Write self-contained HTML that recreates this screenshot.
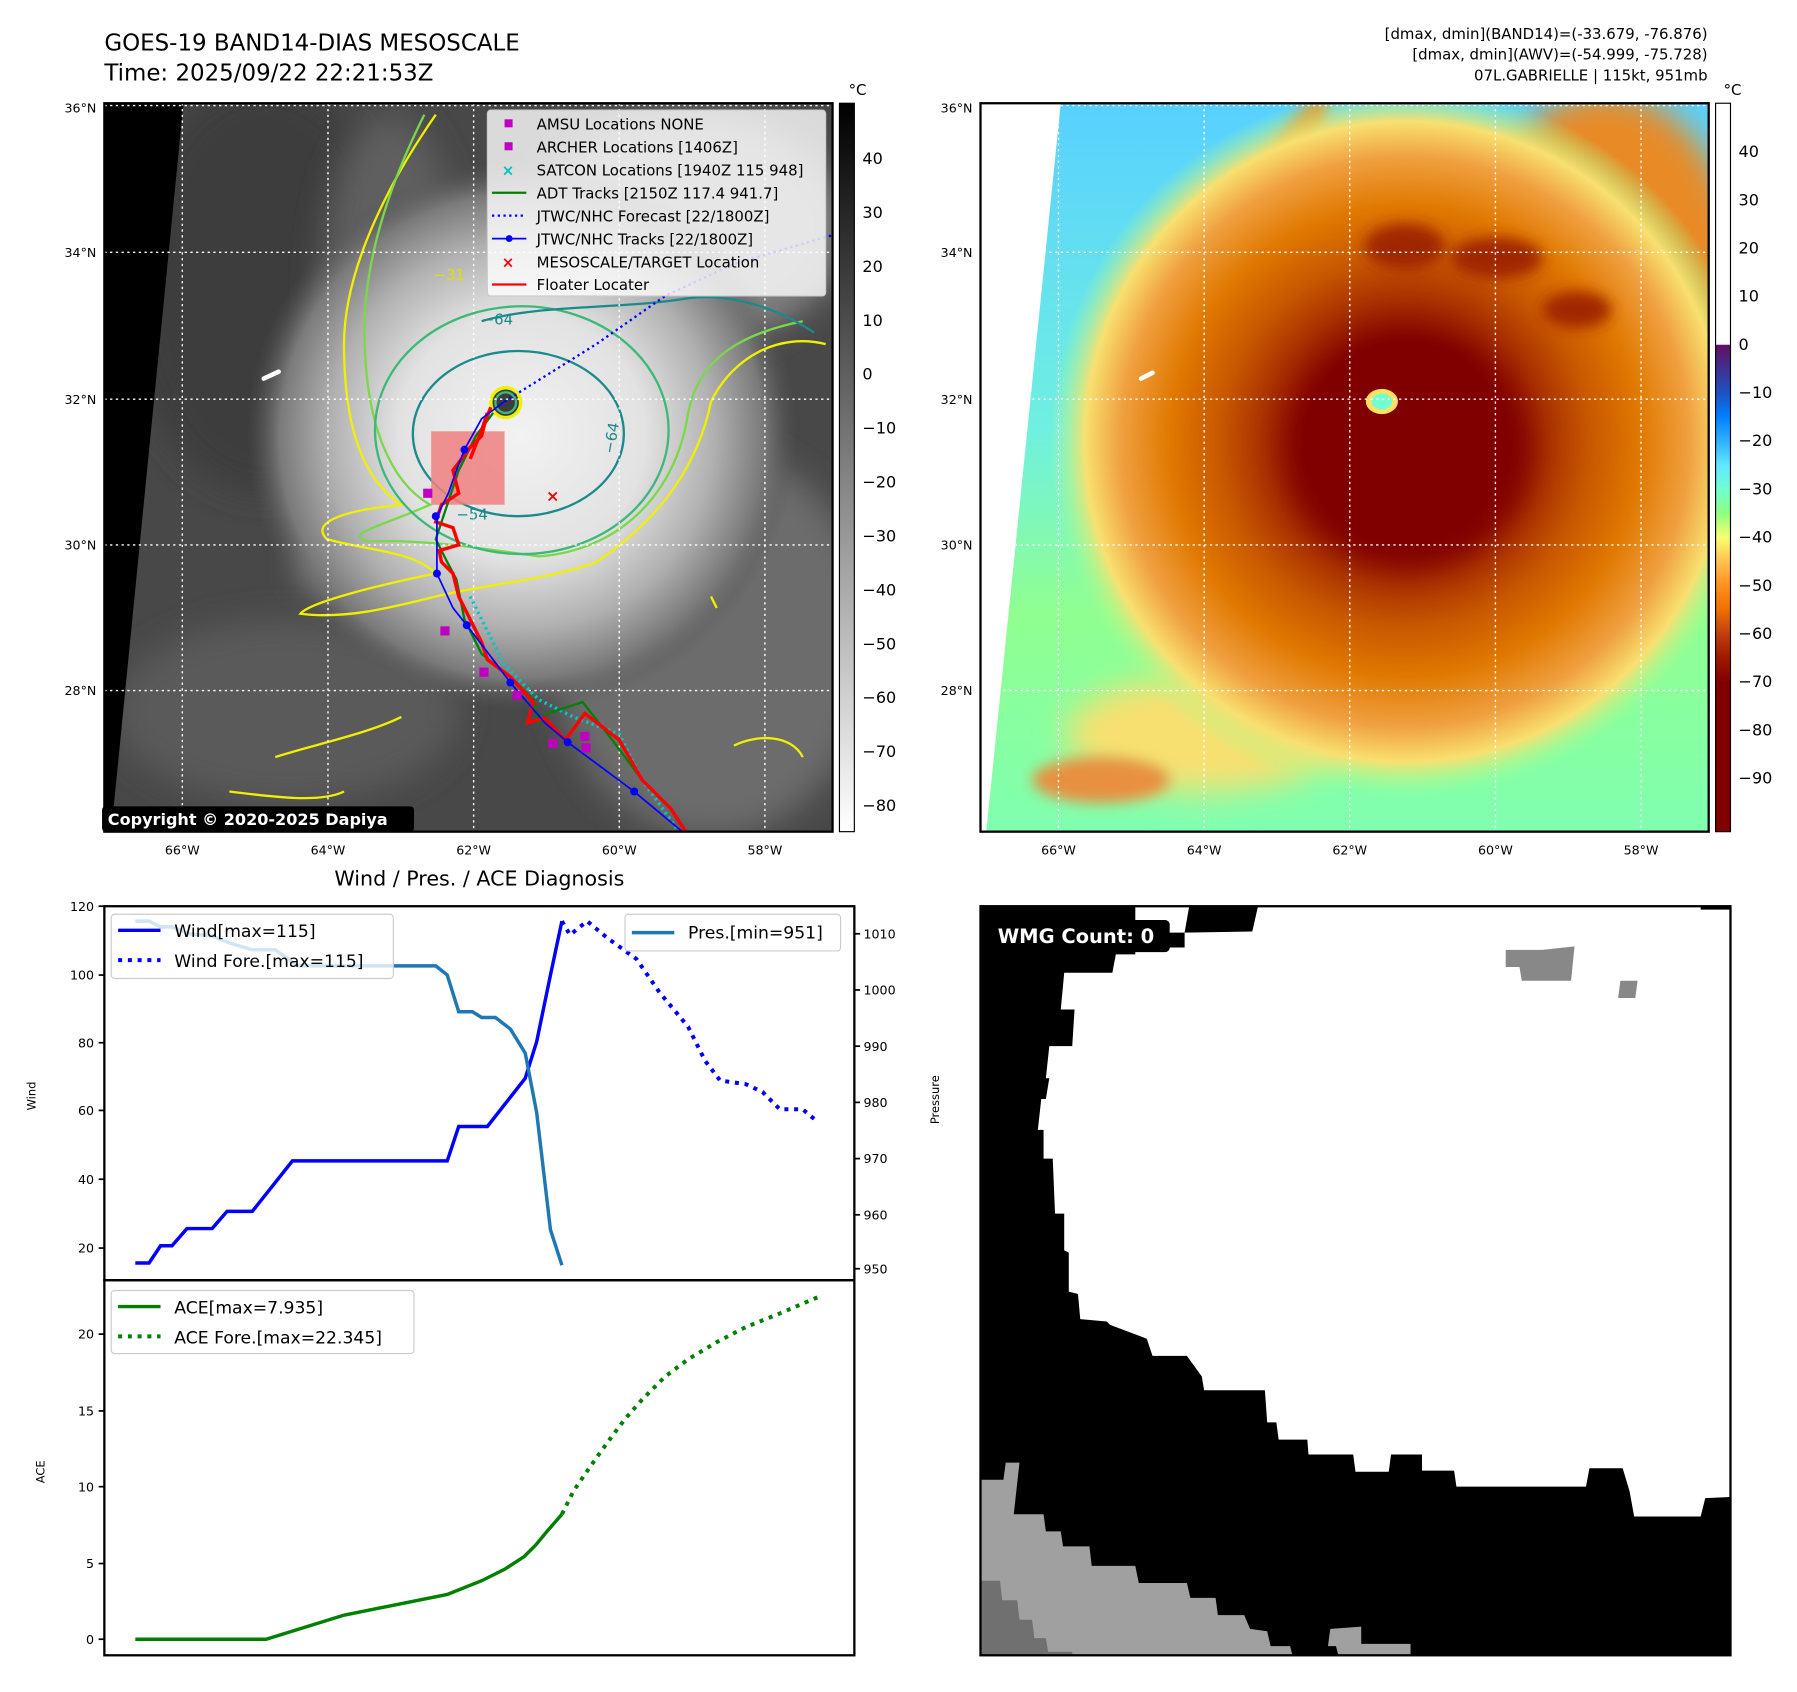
<!DOCTYPE html>
<html><head><meta charset="utf-8"><style>html,body{margin:0;padding:0;background:#fff}svg{display:block}text{font-family:"DejaVu Sans","Liberation Sans",sans-serif}</style></head><body>
<svg width="1797" height="1692" viewBox="0 0 1567 1475" preserveAspectRatio="none" xmlns="http://www.w3.org/2000/svg">
<defs>
<clipPath id="c1"><rect x="91" y="90" width="635" height="635"/></clipPath>
<clipPath id="c2"><rect x="855" y="90" width="635" height="635"/></clipPath>
<clipPath id="c3"><rect x="855" y="790" width="654" height="653"/></clipPath>
<radialGradient id="gs" cx="455" cy="380" r="240" gradientUnits="userSpaceOnUse">
<stop offset="0" stop-color="#f2f2f2"/><stop offset="0.45" stop-color="#e2e2e2"/><stop offset="0.7" stop-color="#b0b0b0"/><stop offset="0.88" stop-color="#7a7a7a"/><stop offset="1" stop-color="#555" stop-opacity="0"/></radialGradient>
<radialGradient id="cs" cx="1225" cy="385" r="310" gradientUnits="userSpaceOnUse">
<stop offset="0" stop-color="#7a0000"/><stop offset="0.28" stop-color="#800000"/><stop offset="0.4" stop-color="#a83000"/><stop offset="0.52" stop-color="#c85800"/><stop offset="0.66" stop-color="#e07800"/><stop offset="0.8" stop-color="#f0a040"/><stop offset="0.9" stop-color="#f8e070"/><stop offset="1" stop-color="#a0ff90" stop-opacity="0"/></radialGradient>
<linearGradient id="bg2" x1="0" y1="0" x2="0" y2="1"><stop offset="0" stop-color="#58d0ff"/><stop offset="0.45" stop-color="#70f0e0"/><stop offset="0.7" stop-color="#90ff90"/><stop offset="1" stop-color="#80ffb0"/></linearGradient>
<linearGradient id="cb1" x1="0" y1="0" x2="0" y2="1"><stop offset="0" stop-color="#000"/><stop offset="1" stop-color="#fff"/></linearGradient>
<linearGradient id="cb2" x1="0" y1="0" x2="0" y2="1">
<stop offset="0" stop-color="#fff"/><stop offset="0.331" stop-color="#fff"/><stop offset="0.332" stop-color="#601060"/><stop offset="0.364" stop-color="#403090"/><stop offset="0.397" stop-color="#2050c0"/><stop offset="0.43" stop-color="#0080ff"/><stop offset="0.464" stop-color="#30b0ff"/><stop offset="0.497" stop-color="#60e8ff"/><stop offset="0.53" stop-color="#70ffd0"/><stop offset="0.563" stop-color="#90ff80"/><stop offset="0.596" stop-color="#f8ff70"/><stop offset="0.63" stop-color="#ffc050"/><stop offset="0.662" stop-color="#ff9020"/><stop offset="0.695" stop-color="#f07000"/><stop offset="0.728" stop-color="#c04010"/><stop offset="0.76" stop-color="#a01a00"/><stop offset="0.795" stop-color="#800000"/><stop offset="1" stop-color="#800000"/></linearGradient>
<filter id="bl" x="-50%" y="-50%" width="200%" height="200%"><feGaussianBlur stdDeviation="14"/></filter>
<filter id="bl2" x="-50%" y="-50%" width="200%" height="200%"><feGaussianBlur stdDeviation="6"/></filter>
</defs>

<text x="91" y="44" font-size="20">GOES-19 BAND14-DIAS MESOSCALE</text>
<text x="91" y="70" font-size="20">Time: 2025/09/22 22:21:53Z</text>
<g font-size="13" text-anchor="end"><text x="1489" y="34">[dmax, dmin](BAND14)=(-33.679, -76.876)</text><text x="1489" y="52">[dmax, dmin](AWV)=(-54.999, -75.728)</text><text x="1489" y="70">07L.GABRIELLE | 115kt, 951mb</text></g>

<!-- MAP 1 -->
<g clip-path="url(#c1)">
<rect x="91" y="90" width="635" height="635" fill="#484848"/>
<ellipse cx="230" cy="250" rx="120" ry="180" fill="#3c3c3c" filter="url(#bl)"/>
<ellipse cx="620" cy="560" rx="140" ry="170" fill="#6c6c6c" filter="url(#bl)"/>
<ellipse cx="250" cy="620" rx="150" ry="80" fill="#5a5a5a" filter="url(#bl)"/>
<ellipse cx="340" cy="250" rx="60" ry="150" fill="#5e5e5e" filter="url(#bl)"/>
<ellipse cx="600" cy="200" rx="140" ry="100" fill="#808080" filter="url(#bl)"/>
<ellipse cx="420" cy="495" rx="160" ry="40" fill="#8a8a8a" filter="url(#bl)"/>
<circle cx="455" cy="380" r="240" fill="url(#gs)"/>
<polygon points="91,90 160,90 97,725 91,725" fill="#000"/>
<g fill="none" stroke-width="2">
<path d="M380,100 C345,150 300,230 300,300 C300,380 320,420 350,440 C300,445 270,455 285,470 C320,480 360,480 380,500 C330,510 270,525 262,535 C300,540 340,530 380,520 C420,510 480,505 520,490 C580,450 610,400 620,350 C640,310 680,290 720,300" stroke="#f0f000"/>
<path d="M370,100 C340,160 315,230 318,300 C320,370 340,420 375,440 C330,460 300,465 320,472 C380,470 430,480 470,485 C540,480 590,430 600,360 C610,310 650,290 700,280" stroke="#7ad84a"/>
<ellipse cx="455" cy="375" rx="128" ry="108" stroke="#3cb878"/>
<ellipse cx="452" cy="378" rx="92" ry="72" stroke="#1a8a8a"/>
<path d="M420,280 C470,265 540,270 600,260 C640,255 680,270 710,290" stroke="#1a8a8a"/>
<path d="M240,660 C270,650 320,640 350,625 M200,690 C240,695 280,700 300,690 M620,520 L625,530 M640,650 C660,640 690,640 700,660" stroke="#f0f000"/>
<circle cx="441" cy="351" r="13" stroke="#f0f000" stroke-width="3" fill="#3c3c3c"/>
<circle cx="441" cy="351" r="9" stroke="#3cb878" stroke-width="2"/>
</g>
<g font-size="13" fill="#1a8a8a"><text x="420" y="283">−64</text><text x="520" y="392" transform="rotate(-80 530 385)">−64</text><text x="398" y="453">−54</text><text x="378" y="244" fill="#e0e000">−31</text></g>
<g stroke="#fff" stroke-width="1.2" stroke-dasharray="2,3">
<line x1="159" y1="90" x2="159" y2="725"/><line x1="286" y1="90" x2="286" y2="725"/><line x1="413" y1="90" x2="413" y2="725"/><line x1="540" y1="90" x2="540" y2="725"/><line x1="667" y1="90" x2="667" y2="725"/>
<line x1="91" y1="92" x2="726" y2="92"/><line x1="91" y1="220" x2="726" y2="220"/><line x1="91" y1="348" x2="726" y2="348"/><line x1="91" y1="475" x2="726" y2="475"/><line x1="91" y1="602" x2="726" y2="602"/>
</g>
<rect x="376" y="376" width="64" height="64" fill="#f08080" opacity="0.85"/>
<polyline points="410,520 440,580 470,610 500,625 540,640 560,680 590,722" fill="none" stroke="#00c8c8" stroke-width="3" stroke-dasharray="2,3"/>
<polyline points="598,725 585,705 560,680 530,640 508,612 478,622 470,630 465,610 445,590 420,570 405,540 398,505 390,490 380,470 390,440 400,410 415,380 430,360" fill="none" stroke="#008000" stroke-width="2"/>
<polyline points="440,350 520,300 580,258 640,230 726,205" fill="none" stroke="#0000ff" stroke-width="2" stroke-dasharray="2,3"/>
<polyline points="598,725 585,705 560,680 540,645 510,622 493,645 475,626 460,630 465,612 445,590 425,575 420,560 410,540 400,520 395,500 385,490 383,480 400,475 395,460 380,455 385,440 400,430 395,410 410,390 420,380 425,360 420,375 410,400 428,355" fill="none" stroke="#f00" stroke-width="3"/>
<polyline points="595,725 553,690 495,647 475,630 445,595 430,575 407,545 395,530 381,500 381,450 391,430 398,410 405,392 420,365 440,350" fill="none" stroke="#0000ff" stroke-width="1.5"/>
<g fill="#0000ff"><circle cx="553" cy="690" r="3.5"/><circle cx="495" cy="647" r="3.5"/><circle cx="445" cy="595" r="3.5"/><circle cx="407" cy="545" r="3.5"/><circle cx="381" cy="500" r="3.5"/><circle cx="380" cy="450" r="3.5"/><circle cx="405" cy="392" r="3.5"/></g>
<g fill="#c000c0"><rect x="369" y="426" width="8" height="8"/><rect x="384" y="546" width="8" height="8"/><rect x="418" y="582" width="8" height="8"/><rect x="447" y="602" width="8" height="8"/><rect x="478" y="644" width="8" height="8"/><rect x="506" y="638" width="8" height="8"/><rect x="507" y="648" width="8" height="8"/></g>
<text x="482" y="437" font-size="14" fill="#f00" text-anchor="middle" font-weight="bold">×</text>
<path d="M230,330 L243,324" stroke="#fff" stroke-width="4" stroke-linecap="round"/>
<rect x="425" y="96" width="295" height="162" rx="3" fill="#fff" fill-opacity="0.8" stroke="#ccc"/>
<g font-size="13">
<rect x="440" y="104" width="7" height="7" fill="#c000c0"/><text x="468" y="113">AMSU Locations NONE</text>
<rect x="440" y="124" width="7" height="7" fill="#c000c0"/><text x="468" y="133">ARCHER Locations [1406Z]</text>
<text x="443" y="153" fill="#00c0c0" text-anchor="middle" font-weight="bold">×</text><text x="468" y="153">SATCON Locations [1940Z 115 948]</text>
<line x1="429" y1="168" x2="459" y2="168" stroke="#008000" stroke-width="2"/><text x="468" y="173">ADT Tracks [2150Z 117.4 941.7]</text>
<line x1="429" y1="188" x2="459" y2="188" stroke="#0000ff" stroke-width="2" stroke-dasharray="2,3"/><text x="468" y="193">JTWC/NHC Forecast [22/1800Z]</text>
<line x1="429" y1="208" x2="459" y2="208" stroke="#0000ff" stroke-width="1.5"/><circle cx="444" cy="208" r="3" fill="#0000ff"/><text x="468" y="213">JTWC/NHC Tracks [22/1800Z]</text>
<text x="443" y="233" fill="#f00" text-anchor="middle" font-weight="bold">×</text><text x="468" y="233">MESOSCALE/TARGET Location</text>
<line x1="429" y1="248" x2="459" y2="248" stroke="#f00" stroke-width="2"/><text x="468" y="253">Floater Locater</text>
</g>
</g>
<rect x="91" y="90" width="635" height="635" fill="none" stroke="#000" stroke-width="2"/>
<rect x="89" y="703" width="272" height="22" rx="3" fill="#000"/>
<text x="94" y="719" font-size="14" font-weight="bold" fill="#fff">Copyright © 2020-2025 Dapiya</text>
<rect x="732" y="90" width="13" height="635" fill="url(#cb1)" stroke="#000" stroke-width="1"/>
<text x="740" y="83" font-size="13">°C</text>
<g font-size="14"><text x="752" y="143">40</text><text x="752" y="190">30</text><text x="752" y="237">20</text><text x="752" y="284">10</text><text x="752" y="331">0</text><text x="752" y="378">−10</text><text x="752" y="425">−20</text><text x="752" y="472">−30</text><text x="752" y="519">−40</text><text x="752" y="566">−50</text><text x="752" y="613">−60</text><text x="752" y="660">−70</text><text x="752" y="707">−80</text></g>
<g font-size="11" text-anchor="end"><text x="84" y="98">36°N</text><text x="84" y="224">34°N</text><text x="84" y="352">32°N</text><text x="84" y="479">30°N</text><text x="84" y="606">28°N</text>
<text x="848" y="98">36°N</text><text x="848" y="224">34°N</text><text x="848" y="352">32°N</text><text x="848" y="479">30°N</text><text x="848" y="606">28°N</text></g>
<g font-size="11" text-anchor="middle"><text x="159" y="745">66°W</text><text x="286" y="745">64°W</text><text x="413" y="745">62°W</text><text x="540" y="745">60°W</text><text x="667" y="745">58°W</text>
<text x="923" y="745">66°W</text><text x="1050" y="745">64°W</text><text x="1177" y="745">62°W</text><text x="1304" y="745">60°W</text><text x="1431" y="745">58°W</text></g>

<!-- MAP 2 -->
<g clip-path="url(#c2)">
<rect x="855" y="90" width="635" height="635" fill="url(#bg2)"/>
<ellipse cx="1400" cy="250" rx="120" ry="170" fill="#e88a28" filter="url(#bl)"/>
<ellipse cx="1050" cy="640" rx="120" ry="50" fill="#f8e070" filter="url(#bl)"/>
<ellipse cx="960" cy="680" rx="60" ry="20" fill="#e89040" filter="url(#bl2)"/>
<ellipse cx="1100" cy="180" rx="20" ry="110" fill="#e88020" filter="url(#bl2)" transform="rotate(30 1100 180)"/>
<circle cx="1225" cy="385" r="310" fill="url(#cs)"/>
<ellipse cx="1230" cy="395" rx="100" ry="95" fill="#800000" filter="url(#bl)"/>
<ellipse cx="1225" cy="215" rx="35" ry="20" fill="#a02800" filter="url(#bl2)"/>
<ellipse cx="1305" cy="225" rx="40" ry="18" fill="#a02800" filter="url(#bl2)"/>
<ellipse cx="1375" cy="270" rx="30" ry="16" fill="#a02800" filter="url(#bl2)"/>
<ellipse cx="1205" cy="350" rx="14" ry="11" fill="#ffe060"/>
<ellipse cx="1205" cy="350" rx="9" ry="7" fill="#70ffd0"/>
<polygon points="855,90 925,90 860,725 855,725" fill="#fff"/>
<path d="M995,330 L1005,325" stroke="#fff" stroke-width="4" stroke-linecap="round"/>
<g stroke="#fff" stroke-width="1.2" stroke-dasharray="2,3">
<line x1="923" y1="90" x2="923" y2="725"/><line x1="1050" y1="90" x2="1050" y2="725"/><line x1="1177" y1="90" x2="1177" y2="725"/><line x1="1304" y1="90" x2="1304" y2="725"/><line x1="1431" y1="90" x2="1431" y2="725"/>
<line x1="855" y1="92" x2="1490" y2="92"/><line x1="855" y1="220" x2="1490" y2="220"/><line x1="855" y1="348" x2="1490" y2="348"/><line x1="855" y1="475" x2="1490" y2="475"/><line x1="855" y1="602" x2="1490" y2="602"/>
</g>
</g>
<rect x="855" y="90" width="635" height="635" fill="none" stroke="#000" stroke-width="2"/>
<rect x="1496" y="90" width="13" height="635" fill="url(#cb2)" stroke="#000" stroke-width="1"/>
<text x="1503" y="83" font-size="13">°C</text>
<g font-size="14"><text x="1516" y="137">40</text><text x="1516" y="179">30</text><text x="1516" y="221">20</text><text x="1516" y="263">10</text><text x="1516" y="305">0</text><text x="1516" y="347">−10</text><text x="1516" y="389">−20</text><text x="1516" y="431">−30</text><text x="1516" y="473">−40</text><text x="1516" y="515">−50</text><text x="1516" y="557">−60</text><text x="1516" y="599">−70</text><text x="1516" y="641">−80</text><text x="1516" y="683">−90</text></g>

<!-- CHARTS -->
<text x="418" y="772" font-size="18" text-anchor="middle">Wind / Pres. / ACE Diagnosis</text>
<rect x="91" y="790" width="654" height="326" fill="none" stroke="#000" stroke-width="2"/>
<rect x="91" y="1116" width="654" height="327" fill="none" stroke="#000" stroke-width="2"/>
<g stroke="#000" stroke-width="1.5">
<line x1="86" y1="790" x2="91" y2="790"/><line x1="86" y1="850" x2="91" y2="850"/><line x1="86" y1="909" x2="91" y2="909"/><line x1="86" y1="968" x2="91" y2="968"/><line x1="86" y1="1028" x2="91" y2="1028"/><line x1="86" y1="1088" x2="91" y2="1088"/>
<line x1="745" y1="814" x2="750" y2="814"/><line x1="745" y1="863" x2="750" y2="863"/><line x1="745" y1="912" x2="750" y2="912"/><line x1="745" y1="961" x2="750" y2="961"/><line x1="745" y1="1010" x2="750" y2="1010"/><line x1="745" y1="1059" x2="750" y2="1059"/><line x1="745" y1="1106" x2="750" y2="1106"/>
<line x1="86" y1="1429" x2="91" y2="1429"/><line x1="86" y1="1363" x2="91" y2="1363"/><line x1="86" y1="1296" x2="91" y2="1296"/><line x1="86" y1="1230" x2="91" y2="1230"/><line x1="86" y1="1163" x2="91" y2="1163"/>
</g>
<g font-size="11" text-anchor="end"><text x="82" y="794">120</text><text x="82" y="854">100</text><text x="82" y="913">80</text><text x="82" y="972">60</text><text x="82" y="1032">40</text><text x="82" y="1092">20</text>
<text x="82" y="1433">0</text><text x="82" y="1367">5</text><text x="82" y="1300">10</text><text x="82" y="1234">15</text><text x="82" y="1167">20</text></g>
<g font-size="11"><text x="753" y="818">1010</text><text x="753" y="867">1000</text><text x="753" y="916">990</text><text x="753" y="965">980</text><text x="753" y="1014">970</text><text x="753" y="1063">960</text><text x="753" y="1110">950</text></g>
<text font-size="10" transform="translate(31 968) rotate(-90)">Wind</text>
<text font-size="10" transform="translate(819 980) rotate(-90)">Pressure</text>
<text font-size="10" transform="translate(39 1293) rotate(-90)">ACE</text>
<polyline points="118,1101 130,1101 140,1086 150,1086 163,1071 185,1071 198,1056 220,1056 255,1012 390,1012 400,982 425,982 458,940 468,908 480,850 490,803" fill="none" stroke="#0000ff" stroke-width="3"/>
<polyline points="490,803 497,815 512,803 530,818 555,836 575,865 600,895 615,925 628,942 650,945 665,952 680,967 700,967 713,978" fill="none" stroke="#0000ff" stroke-width="3.5" stroke-dasharray="3.5,5"/>
<polyline points="118,803 130,803 140,808 150,808 165,814 185,816 200,822 220,828 240,828 260,842 380,842 390,850 400,882 412,882 420,887 432,887 445,897 458,918 468,970 480,1072 490,1103" fill="none" stroke="#1f77b4" stroke-width="3"/>
<polyline points="118,1429 232,1429 300,1408 390,1390 420,1378 440,1368 457,1357 467,1347 477,1335 490,1320" fill="none" stroke="#008000" stroke-width="3"/>
<polyline points="490,1320 500,1300 515,1278 530,1257 545,1237 560,1220 580,1200 600,1185 625,1170 650,1157 680,1145 715,1130" fill="none" stroke="#008000" stroke-width="3.5" stroke-dasharray="3.5,5"/>
<rect x="97" y="797" width="246" height="56" rx="3" fill="#fff" fill-opacity="0.8" stroke="#ccc"/>
<line x1="103" y1="811" x2="140" y2="811" stroke="#0000ff" stroke-width="3"/><text x="152" y="817" font-size="15">Wind[max=115]</text>
<line x1="103" y1="837" x2="140" y2="837" stroke="#0000ff" stroke-width="3.5" stroke-dasharray="3.5,5"/><text x="152" y="843" font-size="15">Wind Fore.[max=115]</text>
<rect x="545" y="797" width="188" height="32" rx="3" fill="#fff" fill-opacity="0.8" stroke="#ccc"/>
<line x1="551" y1="813" x2="588" y2="813" stroke="#1f77b4" stroke-width="3"/><text x="600" y="818" font-size="15">Pres.[min=951]</text>
<rect x="97" y="1125" width="264" height="55" rx="3" fill="#fff" fill-opacity="0.8" stroke="#ccc"/>
<line x1="103" y1="1139" x2="140" y2="1139" stroke="#008000" stroke-width="3"/><text x="152" y="1145" font-size="15">ACE[max=7.935]</text>
<line x1="103" y1="1165" x2="140" y2="1165" stroke="#008000" stroke-width="3.5" stroke-dasharray="3.5,5"/><text x="152" y="1171" font-size="15">ACE Fore.[max=22.345]</text>

<!-- WMG -->
<g clip-path="url(#c3)">
<rect x="855" y="790" width="654" height="653" fill="#000"/>
<polygon fill="#fff" points="990,790 1037,790 1033,813 1092,812 1097,790 1483,790 1483,793 1509,793 1509,1305 1487,1306 1483,1322 1425,1322 1421,1300 1415,1280 1386,1280 1383,1296 1270,1296 1268,1282 1240,1282 1240,1268 1213,1268 1211,1283 1182,1283 1180,1268 1141,1268 1140,1255 1115,1255 1113,1240 1105,1240 1103,1212 1050,1212 1048,1200 1035,1182 1005,1182 1000,1167 968,1155 965,1152 942,1150 940,1128 932,1126 932,1092 928,1090 928,1058 920,1058 918,1010 910,1010 910,985 905,985 908,958 912,958 915,940 912,940 915,912 935,912 937,880 925,880 928,848 970,848 973,832 990,832 990,826 1033,826 1033,813 990,813"/>
<polygon fill="#888" points="1313,828 1345,828 1373,825 1370,855 1327,855 1325,843 1313,843"/>
<polygon fill="#888" points="1413,855 1428,855 1426,870 1411,870"/>
<polygon fill="#a0a0a0" points="855,1290 875,1290 877,1275 889,1275 884,1320 910,1320 912,1335 925,1335 927,1348 950,1348 952,1365 990,1365 993,1380 1035,1380 1038,1393 1060,1393 1062,1408 1085,1408 1090,1420 1105,1422 1108,1435 1125,1435 1127,1443 855,1443"/>
<polygon fill="#707070" points="855,1378 872,1378 874,1395 887,1395 889,1412 900,1412 902,1428 912,1428 914,1440 935,1440 935,1443 855,1443"/>
<polygon fill="#a0a0a0" points="1160,1420 1187,1418 1187,1433 1230,1433 1230,1443 1167,1443 1165,1435 1158,1435"/>
</g>
<rect x="855" y="790" width="654" height="653" fill="none" stroke="#000" stroke-width="2"/>
<rect x="862" y="802" width="158" height="28" rx="4" fill="#000"/>
<text x="870" y="822" font-size="17" font-weight="bold" fill="#fff">WMG Count: 0</text>
</svg>
</body></html>
